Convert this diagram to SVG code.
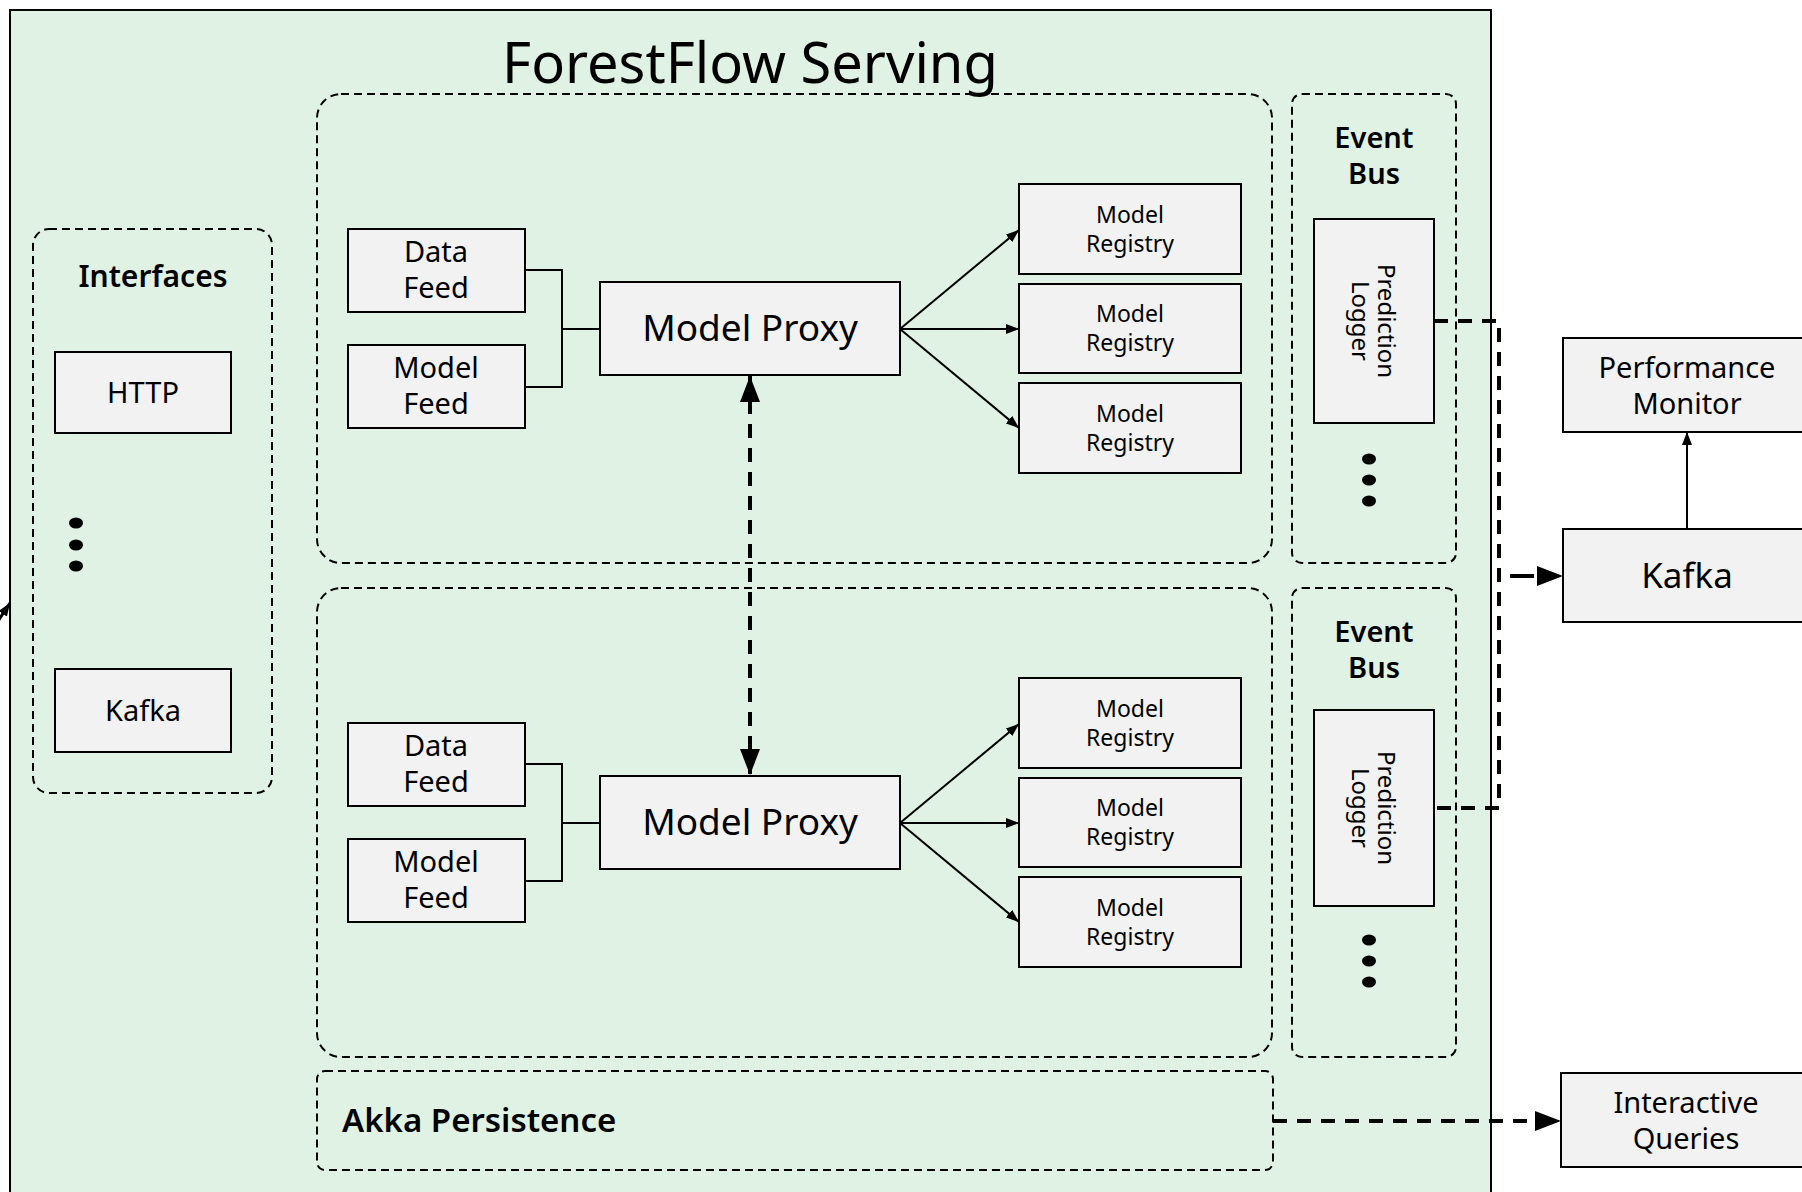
<svg xmlns="http://www.w3.org/2000/svg" width="1802" height="1192" viewBox="0 0 1802 1192">
  <defs>
    <style>
      text { font-family: "Noto Sans", "Liberation Sans", sans-serif; fill: #000; }
      .t { text-anchor: middle; }
      .h { font-weight: 600; font-size: 29px; }
      .box { fill: #f2f2f2; stroke: #000; stroke-width: 2; }
      .grp { fill: none; stroke: #000; stroke-width: 2; stroke-dasharray: 8 5; }
      .ln { fill: none; stroke: #000; stroke-width: 2; }
      .dash { fill: none; stroke: #000; stroke-width: 4; stroke-dasharray: 14 10; }
      .dot { fill: #000; }
    </style>
    <marker id="sa" markerUnits="userSpaceOnUse" markerWidth="13" markerHeight="10" refX="13" refY="5" orient="auto">
      <path d="M0,0 L13,5 L0,10 z" fill="#000"/>
    </marker>
    <marker id="ba" markerUnits="userSpaceOnUse" markerWidth="26" markerHeight="20" refX="26" refY="10" orient="auto-start-reverse">
      <path d="M0,0 L26,10 L0,20 z" fill="#000"/>
    </marker>
  </defs>

  <rect x="-10" y="-10" width="1830" height="1220" fill="#fff"/>

  <g id="forestflow-serving">
    <rect x="10" y="10" width="1481" height="1220" fill="#e0f2e3" stroke="#000" stroke-width="2"/>
    <text class="t" x="750" y="83" font-size="56">ForestFlow Serving</text>
  </g>

  <g id="partition-top">
    <rect class="grp" x="317" y="94" width="955" height="469" rx="24"/>
  </g>
  <g id="partition-bottom">
    <rect class="grp" x="317" y="588" width="955" height="469" rx="24"/>
  </g>
  <g id="akka-persistence">
    <rect class="grp" x="317" y="1071" width="956" height="99" rx="8"/>
    <text class="h" x="342" y="1132" style="font-size:33px">Akka Persistence</text>
  </g>

  <g id="interfaces">
    <rect class="grp" x="33" y="229" width="239" height="564" rx="16"/>
    <text class="t h" x="153" y="287" style="font-size:30px">Interfaces</text>
    <ellipse class="dot" cx="76" cy="523" rx="7" ry="5.5"/>
    <ellipse class="dot" cx="76" cy="545" rx="7" ry="5.5"/>
    <ellipse class="dot" cx="76" cy="566" rx="7" ry="5.5"/>
  </g>
  <g id="http">
    <rect class="box" x="55" y="352" width="176" height="81"/>
    <text class="t" x="143" y="403" font-size="29">HTTP</text>
  </g>
  <g id="kafka-interface">
    <rect class="box" x="55" y="669" width="176" height="83"/>
    <text class="t" x="143" y="721" font-size="29">Kafka</text>
  </g>

  <!-- top partition nodes -->
  <g id="data-feed-1">
    <rect class="box" x="348" y="229" width="177" height="83"/>
    <text class="t" x="436" y="262" font-size="29">Data</text>
    <text class="t" x="436" y="298" font-size="29">Feed</text>
  </g>
  <g id="model-feed-1">
    <rect class="box" x="348" y="345" width="177" height="83"/>
    <text class="t" x="436" y="378" font-size="29">Model</text>
    <text class="t" x="436" y="414" font-size="29">Feed</text>
  </g>
  <g id="model-proxy-1">
    <rect class="box" x="600" y="282" width="300" height="93"/>
    <text class="t" x="750" y="341" font-size="37">Model Proxy</text>
  </g>
  <g id="model-registry-1a">
    <rect class="box" x="1019" y="184" width="222" height="90"/>
    <text class="t" x="1130" y="223" font-size="23">Model</text>
    <text class="t" x="1130" y="252" font-size="23">Registry</text>
  </g>
  <g id="model-registry-1b">
    <rect class="box" x="1019" y="284" width="222" height="89"/>
    <text class="t" x="1130" y="322" font-size="23">Model</text>
    <text class="t" x="1130" y="351" font-size="23">Registry</text>
  </g>
  <g id="model-registry-1c">
    <rect class="box" x="1019" y="383" width="222" height="90"/>
    <text class="t" x="1130" y="422" font-size="23">Model</text>
    <text class="t" x="1130" y="451" font-size="23">Registry</text>
  </g>

  <!-- bottom partition nodes -->
  <g id="data-feed-2">
    <rect class="box" x="348" y="723" width="177" height="83"/>
    <text class="t" x="436" y="756" font-size="29">Data</text>
    <text class="t" x="436" y="792" font-size="29">Feed</text>
  </g>
  <g id="model-feed-2">
    <rect class="box" x="348" y="839" width="177" height="83"/>
    <text class="t" x="436" y="872" font-size="29">Model</text>
    <text class="t" x="436" y="908" font-size="29">Feed</text>
  </g>
  <g id="model-proxy-2">
    <rect class="box" x="600" y="776" width="300" height="93"/>
    <text class="t" x="750" y="835" font-size="37">Model Proxy</text>
  </g>
  <g id="model-registry-2a">
    <rect class="box" x="1019" y="678" width="222" height="90"/>
    <text class="t" x="1130" y="717" font-size="23">Model</text>
    <text class="t" x="1130" y="746" font-size="23">Registry</text>
  </g>
  <g id="model-registry-2b">
    <rect class="box" x="1019" y="778" width="222" height="89"/>
    <text class="t" x="1130" y="816" font-size="23">Model</text>
    <text class="t" x="1130" y="845" font-size="23">Registry</text>
  </g>
  <g id="model-registry-2c">
    <rect class="box" x="1019" y="877" width="222" height="90"/>
    <text class="t" x="1130" y="916" font-size="23">Model</text>
    <text class="t" x="1130" y="945" font-size="23">Registry</text>
  </g>

  <!-- event buses -->
  <g id="event-bus-1">
    <rect class="grp" x="1292" y="94" width="164" height="469" rx="10"/>
    <text class="t h" x="1374" y="148">Event</text>
    <text class="t h" x="1374" y="184">Bus</text>
    <ellipse class="dot" cx="1369" cy="459" rx="7" ry="5.5"/>
    <ellipse class="dot" cx="1369" cy="480" rx="7" ry="5.5"/>
    <ellipse class="dot" cx="1369" cy="501" rx="7" ry="5.5"/>
  </g>
  <g id="prediction-logger-1">
    <rect class="box" x="1314" y="219" width="120" height="204"/>
    <g transform="translate(1374,321) rotate(90)">
      <text class="t" x="0" y="-4" font-size="24">Prediction</text>
      <text class="t" x="0" y="22" font-size="24">Logger</text>
    </g>
  </g>
  <g id="event-bus-2">
    <rect class="grp" x="1292" y="588" width="164" height="469" rx="10"/>
    <text class="t h" x="1374" y="642">Event</text>
    <text class="t h" x="1374" y="678">Bus</text>
    <ellipse class="dot" cx="1369" cy="940" rx="7" ry="5.5"/>
    <ellipse class="dot" cx="1369" cy="961" rx="7" ry="5.5"/>
    <ellipse class="dot" cx="1369" cy="982" rx="7" ry="5.5"/>
  </g>
  <g id="prediction-logger-2">
    <rect class="box" x="1314" y="710" width="120" height="196"/>
    <g transform="translate(1374,808) rotate(90)">
      <text class="t" x="0" y="-4" font-size="24">Prediction</text>
      <text class="t" x="0" y="22" font-size="24">Logger</text>
    </g>
  </g>

  <!-- external nodes -->
  <g id="performance-monitor">
    <rect class="box" x="1563" y="338" width="250" height="94"/>
    <text class="t" x="1687" y="378" font-size="29">Performance</text>
    <text class="t" x="1687" y="414" font-size="29">Monitor</text>
  </g>
  <g id="kafka">
    <rect class="box" x="1563" y="529" width="250" height="93"/>
    <text class="t" x="1687" y="588" font-size="35">Kafka</text>
  </g>
  <g id="interactive-queries">
    <rect class="box" x="1561" y="1073" width="252" height="94"/>
    <text class="t" x="1686" y="1113" font-size="29">Interactive</text>
    <text class="t" x="1686" y="1149" font-size="29">Queries</text>
  </g>

  <g id="connectors">
    <!-- feeds to proxy -->
    <path class="ln" d="M525,270 H562 V387 H525 M562,329 H600"/>
    <path class="ln" d="M525,764 H562 V881 H525 M562,823 H600"/>
    <!-- proxy to registries -->
    <path class="ln" marker-end="url(#sa)" d="M900,329 L1019,230"/>
    <path class="ln" marker-end="url(#sa)" d="M900,329 L1019,329"/>
    <path class="ln" marker-end="url(#sa)" d="M900,329 L1019,428"/>
    <path class="ln" marker-end="url(#sa)" d="M900,823 L1019,724"/>
    <path class="ln" marker-end="url(#sa)" d="M900,823 L1019,823"/>
    <path class="ln" marker-end="url(#sa)" d="M900,823 L1019,922"/>
    <!-- proxy to proxy -->
    <path class="dash" marker-start="url(#ba)" marker-end="url(#ba)" d="M750,376 V775"/>
    <!-- loggers to kafka -->
    <path class="dash" d="M1434,321 H1499 V808 H1434"/>
    <path class="dash" marker-end="url(#ba)" d="M1499,576 H1563" style="stroke-dasharray:0 11 24 40"/>
    <!-- kafka to performance monitor -->
    <path class="ln" marker-end="url(#sa)" d="M1687,529 V432"/>
    <!-- akka to interactive queries -->
    <path class="dash" marker-end="url(#ba)" d="M1273,1121 H1561"/>
    <!-- incoming at left edge -->
    <path class="ln" style="stroke-width:3" marker-end="url(#sa)" d="M-4,624 L10,603"/>
  </g>
</svg>
